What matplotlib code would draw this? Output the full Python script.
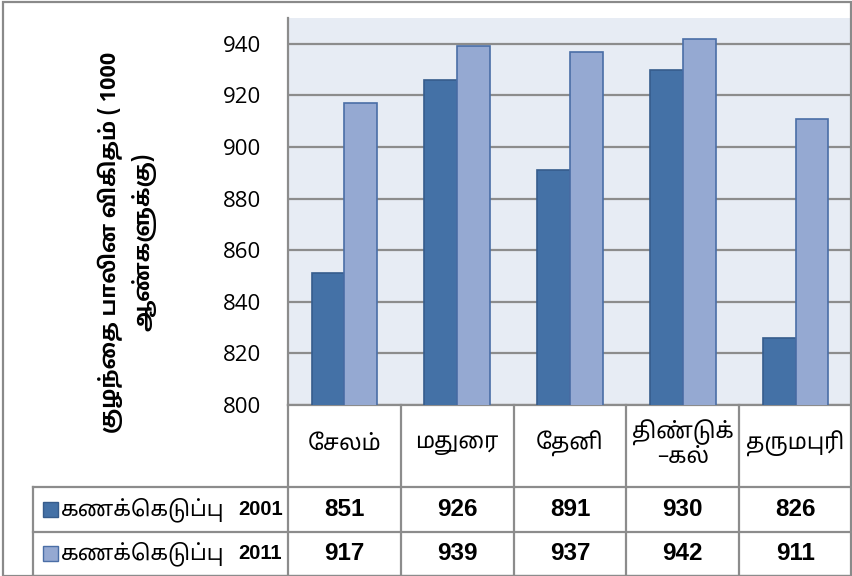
import matplotlib
matplotlib.use("Agg")
import matplotlib.pyplot as plt
from matplotlib import font_manager as fm
from matplotlib.lines import Line2D
from matplotlib.patches import Rectangle
from matplotlib.transforms import blended_transform_factory
import numpy as np

# data
districts = ["சேலம்", "மதுரை", "தேனி", "திண்டுக்\n–கல்", "தருமபுரி"]
census_2001 = [851, 926, 891, 930, 826]
census_2011 = [917, 939, 937, 942, 911]
series_label = "கணக்கெடுப்பு"
series_years = ["2001", "2011"]
y_ticks = [800, 820, 840, 860, 880, 900, 920, 940]
y_label = "குழந்தை பாலின விகிதம் ( 1000\nஆண்களுக்கு)"

dark_blue = "#4471A6"
light_blue = "#95A9D2"
grid_grey = "#8C8C8C"

# matplotlib does no Tamil shaping, so the vowel signs / ligatures
# are worked out with HarfBuzz and mapped into a patched copy of the font
PRE = {"\u0bc6", "\u0bc7", "\u0bc8"}
SPLIT = {"\u0bca": ("\u0bc6", "\u0bbe"), "\u0bcb": ("\u0bc7", "\u0bbe"), "\u0bcc": ("\u0bc6", "\u0bd7")}


def reorder(s):
    out = []
    for ch in s:
        if ch in SPLIT:
            a, b = SPLIT[ch]
            out.insert(len(out) - 1, a)
            out.append(b)
        elif ch in PRE and out:
            out.insert(len(out) - 1, ch)
        else:
            out.append(ch)
    return "".join(out)


def build_tamil_fonts(texts):
    from fontTools.ttLib import TTFont
    from fontTools.varLib import instancer
    import gi
    gi.require_version("HarfBuzz", "0.0")
    from gi.repository import HarfBuzz as hb
    from gi.repository import GLib

    src = next(f.fname for f in fm.fontManager.ttflist
               if "NotoSansTamil[" in f.fname)
    with open(src, "rb") as f:
        data = f.read()
    blob = hb.glib_blob_create(GLib.Bytes.new(data))
    face = hb.face_create(blob, 0)
    hfont = hb.font_create(face)
    try:
        hb.ot_font_set_funcs(hfont)
    except Exception:
        pass

    base = TTFont(src)
    order = base.getGlyphOrder()
    cmap = base.getBestCmap()
    rev = {}
    for cp, gname in sorted(cmap.items()):
        rev.setdefault(gname, cp)
    extra = {}
    pua = 0xE000
    while pua in cmap:
        pua += 1

    def shape_line(line):
        buf = hb.buffer_create()
        hb.buffer_add_utf8(buf, line.encode("utf-8"), 0, -1)
        hb.buffer_guess_segment_properties(buf)
        hb.shape(hfont, buf, [])
        offs = {}
        pos = 0
        for ch in line:
            offs[pos] = ch
            pos += len(ch.encode("utf-8"))
        out = []
        for info in hb.buffer_get_glyph_infos(buf):
            gid = info.codepoint
            if gid == 0:
                out.append(offs.get(info.cluster, ""))
                continue
            gname = order[gid]
            if gname in rev:
                out.append(chr(rev[gname]))
            else:
                if gname not in extra:
                    extra[gname] = pua + len(extra)
                out.append(chr(extra[gname]))
        return "".join(out)

    shaped = {t: "\n".join(shape_line(l) for l in t.split("\n")) for t in texts}

    axes = {a.axisTag: a for a in base["fvar"].axes} if "fvar" in base else {}
    fams = []
    for wght, fam in [(400, "TamilShaped"), (700, "TamilShapedBold")]:
        tt = TTFont(src)
        loc = {}
        if "wght" in axes:
            loc["wght"] = wght
        if "wdth" in axes:
            loc["wdth"] = 100
        inst = instancer.instantiateVariableFont(tt, loc) if loc else tt
        for table in inst["cmap"].tables:
            if table.isUnicode() and table.format in (4, 12):
                for gname, cp in extra.items():
                    table.cmap[cp] = gname
        for rec in inst["name"].names:
            if rec.nameID in (1, 4, 6, 16):
                rec.string = fam
            elif rec.nameID in (2, 17):
                rec.string = "Regular"
        fn = fam + ".ttf"
        inst.save(fn)
        fm.fontManager.addfont(fn)
        fams.append(fam)
    return shaped, fams


all_tamil = districts + [series_label, y_label]
try:
    shaped, (tam_reg, tam_bold) = build_tamil_fonts(all_tamil)
    TAM = [tam_reg, "Liberation Sans", "DejaVu Sans"]
    TAM_B = [tam_bold, "Liberation Sans", "DejaVu Sans"]
except Exception:
    shaped = {t: reorder(t) for t in all_tamil}
    TAM = ["Noto Sans Tamil", "Liberation Sans", "DejaVu Sans"]
    TAM_B = TAM

W, H = 852, 576


def fx(px):
    return px / W


def fy(py):
    return 1 - py / H


fig = plt.figure(figsize=(8.52, 5.76), dpi=100)
fig.patch.set_facecolor("white")

ax = fig.add_axes([fx(288), fy(405), fx(852) - fx(288), fy(18) - fy(405)])
ax.set_facecolor("#E7ECF4")

x = np.arange(len(districts))
bw = 0.29
ax.bar(x - bw / 2, census_2001, bw, color=dark_blue, edgecolor="#365C8C", linewidth=1.2, zorder=3)
ax.bar(x + bw / 2, census_2011, bw, color=light_blue, edgecolor="#4A6EA6", linewidth=1.2, zorder=3)

ax.set_xlim(-0.5, len(districts) - 0.5)
ax.set_ylim(800, 950)
ax.set_xticks([])
ax.set_yticks(y_ticks)
ax.yaxis.grid(True, color=grid_grey, linewidth=1.6)
ax.set_axisbelow(True)
ax.tick_params(axis="y", length=0, pad=19, labelsize=16)
for lab in ax.get_yticklabels():
    lab.set_family(["Open Sans", "DejaVu Sans"])
for side in ["top", "right"]:
    ax.spines[side].set_visible(False)
for side in ["left", "bottom"]:
    ax.spines[side].set_color(grid_grey)
    ax.spines[side].set_linewidth(1.6)

# data table under the axes
bt = blended_transform_factory(ax.transData, fig.transFigure)
row_top, row1, row2, row_bot = fy(405), fy(487), fy(532), fy(575.5)
line_kw = dict(color=grid_grey, linewidth=1.6)
for yy in [row1, row2, row_bot]:
    fig.add_artist(Line2D([fx(33), 1], [yy, yy], transform=fig.transFigure, **line_kw))
fig.add_artist(Line2D([fx(33), fx(33)], [row1, row_bot], transform=fig.transFigure, **line_kw))
for i in range(len(districts) - 1):
    fig.add_artist(Line2D([i + 0.5, i + 0.5], [row_top, row_bot], transform=bt, **line_kw))
fig.add_artist(Line2D([-0.5, -0.5], [row_top, row_bot], transform=bt, **line_kw))

for i, name in enumerate(districts):
    fig.text(i, (row_top + row1) / 2 + 0.003, shaped[name], transform=bt, ha="center", va="center",
             fontsize=16, family=TAM, linespacing=1.05)
for i, (a, b) in enumerate(zip(census_2001, census_2011)):
    fig.text(i, (row1 + row2) / 2, str(a), transform=bt, ha="center", va="center",
             fontsize=17.5, fontweight="bold", family=["Liberation Sans", "DejaVu Sans"])
    fig.text(i, (row2 + row_bot) / 2, str(b), transform=bt, ha="center", va="center",
             fontsize=17.5, fontweight="bold", family=["Liberation Sans", "DejaVu Sans"])

for yc, col, ec, yr in [((row1 + row2) / 2, dark_blue, "#365C8C", series_years[0]),
                        ((row2 + row_bot) / 2, light_blue, "#4A6EA6", series_years[1])]:
    fig.add_artist(Rectangle((fx(43), yc - 7.5 / H), 15 / W, 15 / H, transform=fig.transFigure,
                             facecolor=col, edgecolor=ec, linewidth=1))
    fig.text(fx(61), yc, shaped[series_label], ha="left", va="center", fontsize=15.5, family=TAM)
    fig.text(fx(238), yc, yr, ha="left", va="center", fontsize=14.5, fontweight="bold",
             family=["Liberation Sans", "DejaVu Sans"])

fig.text(fx(127), fy(242), shaped[y_label], rotation=90, ha="center", va="center",
         multialignment="center", fontsize=15.5, fontweight="bold", family=TAM_B, linespacing=1.45)

# outer chart border
fig.add_artist(Rectangle((0.003, 0.0), 0.996, 0.997, transform=fig.transFigure,
                         fill=False, edgecolor="#8A8A8A", linewidth=1.6))

fig.savefig("out.png", dpi=100)
